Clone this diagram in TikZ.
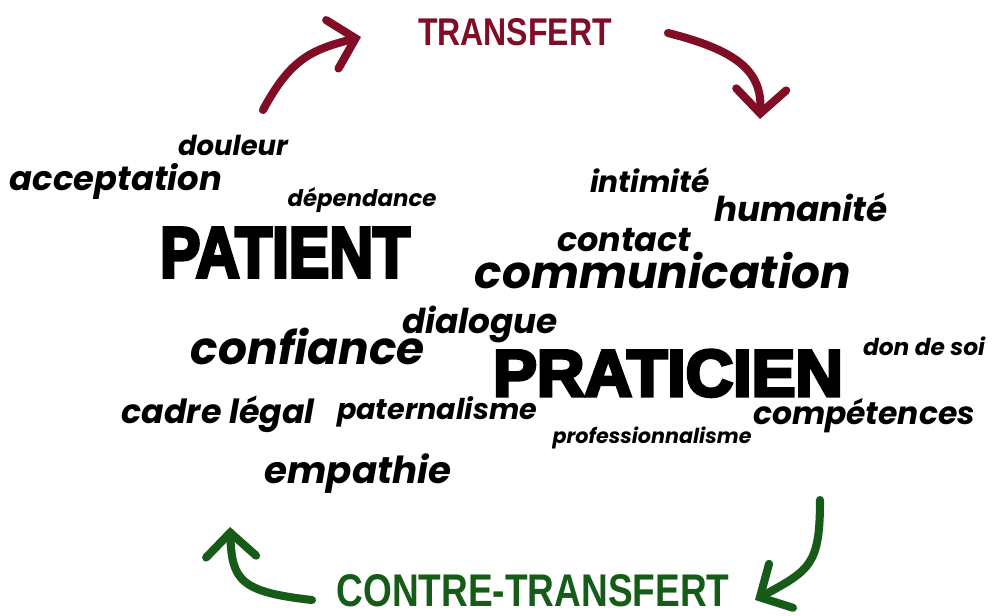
\documentclass[tikz,border=0pt]{standalone}
\usepackage{fontspec}
\usepackage{graphicx}
\usetikzlibrary{arrows.meta}
\setmainfont{Liberation Sans}
\newfontfamily\wordfont{Poppins}
\newfontfamily\heavyfont{Liberation Sans}[BoldFeatures={FakeBold=5}]
\newlength\pix
\setlength\pix{0.01cm}
\definecolor{transred}{RGB}{128,12,38}
\definecolor{contregreen}{RGB}{22,92,24}
% one word of the cloud: width in pixels, then the word
\newcommand{\cloudword}[2]{\resizebox{#1\pix}{!}{\wordfont\bfseries\itshape #2}}
\newcommand{\bigword}[3]{\resizebox{#1\pix}{#2\pix}{\heavyfont\bfseries #3}}
\newcommand{\flowword}[3]{\resizebox{#1\pix}{#2\pix}{\bfseries #3}}

\begin{document}
\begin{tikzpicture}
[x=0.01cm, y=-0.01cm, word/.style={inner sep=0pt, anchor=base}, transfer arrow/.style={line width=2.3pt, line cap=round, line join=round, -{Straight Barb[length=2.4mm, width=5mm, line cap=round]}}]
    \useasboundingbox (0,0) rectangle (1000,616);
    % the two poles
    \node[word] (patient) at (285,277) {\bigword{250}{49}{PATIENT}};
    \node[word] (praticien) at (668,396) {\bigword{350}{46}{PRATICIEN}};
    % words round the patient
    \node[word] (douleur) at (233,156) {\cloudword{110}{douleur}};
    \node[word] (acceptation) at (116,191) {\cloudword{212}{acceptation}};
    \node[word] (dependance) at (362,207) {\cloudword{149}{dépendance}};
    \node[word] (confiance) at (308,365) {\cloudword{234}{confiance}};
    \node[word] (cadre) at (218,424) {\cloudword{193}{cadre légal}};
    \node[word] (paternalisme) at (437,420) {\cloudword{200}{paternalisme}};
    \node[word] (empathie) at (358,484) {\cloudword{187}{empathie}};
    \node[word] (dialogue) at (480,334) {\cloudword{156}{dialogue}};
    % words round the practitioner
    \node[word] (intimite) at (650,193) {\cloudword{120}{intimité}};
    \node[word] (humanite) at (801,222) {\cloudword{174}{humanité}};
    \node[word] (contact) at (624,252) {\cloudword{134}{contact}};
    \node[word] (communication) at (663,289) {\cloudword{376}{communication}};
    \node[word] (don) at (924,356) {\cloudword{122}{don de soi}};
    \node[word] (competences) at (864,425) {\cloudword{222}{compétences}};
    \node[word] (professionnalisme) at (652,444) {\cloudword{199}{professionnalisme}};
    % transfert
    \node[word, text=transred] (transfert) at (515,46) {\flowword{194}{27}{TRANSFERT}};
    \coordinate (t1s) at (263,110);
    \coordinate (t1e) at (361,37);
    \coordinate (t2s) at (668,33);
    \coordinate (t2e) at (760,119);
    \draw[transfer arrow, transred] (t1s) .. controls (290,60) and (310,50) .. (t1e);
    \draw[transfer arrow, transred] (t2s) .. controls (735,50) and (762,70) .. (t2e);
    % contre-transfert
    \node[word, text=contregreen] (contre) at (533,607) {\flowword{393}{32}{CONTRE-TRANSFERT}};
    \coordinate (c1s) at (312,600);
    \coordinate (c1e) at (230,527);
    \coordinate (c2s) at (820,500);
    \coordinate (c2e) at (755,600);
    \draw[transfer arrow, contregreen] (c1s) .. controls (240,592) and (232,580) .. (c1e);
    \draw[transfer arrow, contregreen] (c2s) .. controls (820,565) and (810,570) .. (c2e);
\end{tikzpicture}
\end{document}
